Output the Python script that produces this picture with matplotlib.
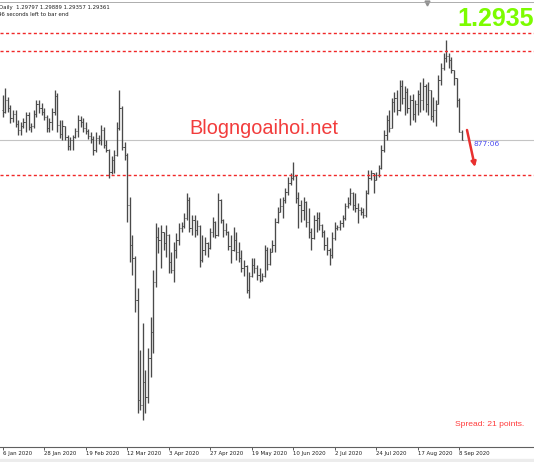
import matplotlib
matplotlib.use('Agg')
import matplotlib.pyplot as plt
import numpy as np

# GBPUSD daily bars (Jan 2020 - Sep 2020)
highs = [
    1.3181, 1.3219, 1.3170, 1.3126, 1.3098, 1.3098, 1.3043, 1.3032, 1.3054, 1.3087,
    1.3087, 1.3027, 1.3098, 1.3153, 1.3153, 1.3137, 1.3109, 1.3071, 1.3054, 1.3109,
    1.3208, 1.3192, 1.3043, 1.3043, 1.3010, 1.2962, 1.2951, 1.2962, 1.2999, 1.3071,
    1.3065, 1.3054, 1.3032, 1.2994, 1.2978, 1.2956, 1.2978, 1.2962, 1.3016, 1.3005,
    1.2934, 1.2885, 1.2846, 1.2879, 1.3032, 1.3208, 1.3120, 1.2923, 1.2860, 1.2622,
    1.2414, 1.2300, 1.2123, 1.1783, 1.1931, 1.1673, 1.1794, 1.1964, 1.2221, 1.2479,
    1.2457, 1.2468, 1.2430, 1.2468, 1.2420, 1.2320, 1.2375, 1.2425, 1.2479, 1.2484,
    1.2534, 1.2644, 1.2622, 1.2523, 1.2523, 1.2495, 1.2470, 1.2414, 1.2403, 1.2375,
    1.2451, 1.2512, 1.2490, 1.2644, 1.2612, 1.2500, 1.2479, 1.2435, 1.2414, 1.2457,
    1.2430, 1.2375, 1.2331, 1.2276, 1.2250, 1.2210, 1.2287, 1.2287, 1.2249, 1.2232,
    1.2205, 1.2359, 1.2348, 1.2342, 1.2386, 1.2506, 1.2567, 1.2616, 1.2622, 1.2671,
    1.2731, 1.2753, 1.2813, 1.2742, 1.2649, 1.2605, 1.2622, 1.2600, 1.2561, 1.2451,
    1.2523, 1.2539, 1.2539, 1.2475, 1.2441, 1.2403, 1.2342, 1.2430, 1.2484, 1.2468,
    1.2495, 1.2523, 1.2589, 1.2622, 1.2671, 1.2649, 1.2644, 1.2589, 1.2567, 1.2561,
    1.2660, 1.2769, 1.2769, 1.2753, 1.2758, 1.2797, 1.2907, 1.2989, 1.3071, 1.3098,
    1.3164, 1.3197, 1.3208, 1.3263, 1.3263, 1.3230, 1.3219, 1.3181, 1.3186, 1.3153,
    1.3208, 1.3252, 1.3273, 1.3240, 1.3252, 1.3208, 1.3170, 1.3153, 1.3290, 1.3356,
    1.3411, 1.3482, 1.3411, 1.3389, 1.3317, 1.3273, 1.3164, 1.29889]

lows = [
    1.3060, 1.3080, 1.3087, 1.3027, 1.3032, 1.3005, 1.2962, 1.2962, 1.2999, 1.2978,
    1.2989, 1.2978, 1.3000, 1.3060, 1.3082, 1.3071, 1.3043, 1.2978, 1.2978, 1.2989,
    1.3071, 1.2978, 1.2945, 1.2934, 1.2934, 1.2879, 1.2879, 1.2879, 1.2945, 1.2951,
    1.3005, 1.2978, 1.2967, 1.2940, 1.2918, 1.2852, 1.2868, 1.2912, 1.2907, 1.2890,
    1.2868, 1.2725, 1.2747, 1.2753, 1.2845, 1.2990, 1.2879, 1.2824, 1.2484, 1.2265,
    1.2194, 1.1991, 1.1438, 1.1454, 1.1399, 1.1438, 1.1493, 1.1635, 1.1767, 1.2129,
    1.2315, 1.2232, 1.2331, 1.2293, 1.2205, 1.2205, 1.2156, 1.2287, 1.2359, 1.2430,
    1.2451, 1.2495, 1.2430, 1.2414, 1.2403, 1.2414, 1.2238, 1.2265, 1.2304, 1.2293,
    1.2335, 1.2403, 1.2397, 1.2405, 1.2479, 1.2403, 1.2414, 1.2331, 1.2260, 1.2325,
    1.2276, 1.2265, 1.2210, 1.2188, 1.2096, 1.2068, 1.2183, 1.2205, 1.2167, 1.2156,
    1.2162, 1.2183, 1.2221, 1.2249, 1.2320, 1.2320, 1.2479, 1.2539, 1.2506, 1.2589,
    1.2633, 1.2688, 1.2715, 1.2589, 1.2451, 1.2484, 1.2495, 1.2457, 1.2397, 1.2331,
    1.2390, 1.2430, 1.2441, 1.2403, 1.2331, 1.2304, 1.2249, 1.2287, 1.2386, 1.2441,
    1.2441, 1.2457, 1.2495, 1.2561, 1.2578, 1.2550, 1.2539, 1.2479, 1.2523, 1.2506,
    1.2512, 1.2640, 1.2715, 1.2644, 1.2715, 1.2731, 1.2775, 1.2868, 1.2934, 1.2978,
    1.2999, 1.3087, 1.3071, 1.3090, 1.3131, 1.3071, 1.3082, 1.3016, 1.3043, 1.3032,
    1.3071, 1.3087, 1.3098, 1.3087, 1.3071, 1.3043, 1.3032, 1.3010, 1.3131, 1.3236,
    1.3317, 1.3361, 1.3328, 1.3301, 1.3236, 1.3115, 1.2975, 1.29357]

closes = [
    1.3087, 1.3153, 1.3109, 1.3054, 1.3076, 1.3021, 1.2989, 1.3010, 1.3032, 1.3071,
    1.3005, 1.3010, 1.3076, 1.3131, 1.3109, 1.3087, 1.3060, 1.2999, 1.3032, 1.3087,
    1.3175, 1.3016, 1.2967, 1.3010, 1.2951, 1.2901, 1.2934, 1.2951, 1.2984, 1.3043,
    1.3032, 1.2999, 1.2984, 1.2956, 1.2940, 1.2879, 1.2945, 1.2934, 1.2989, 1.2907,
    1.2879, 1.2758, 1.2824, 1.2852, 1.2999, 1.3109, 1.2896, 1.2852, 1.2578, 1.2359,
    1.2287, 1.2057, 1.1509, 1.1482, 1.1608, 1.1526, 1.1739, 1.1882, 1.2156, 1.2403,
    1.2386, 1.2430, 1.2370, 1.2414, 1.2265, 1.2221, 1.2331, 1.2386, 1.2451, 1.2462,
    1.2506, 1.2605, 1.2451, 1.2495, 1.2441, 1.2462, 1.2276, 1.2331, 1.2370, 1.2342,
    1.2430, 1.2484, 1.2414, 1.2605, 1.2495, 1.2441, 1.2430, 1.2353, 1.2331, 1.2386,
    1.2320, 1.2287, 1.2232, 1.2243, 1.2112, 1.2188, 1.2249, 1.2232, 1.2194, 1.2167,
    1.2188, 1.2331, 1.2254, 1.2320, 1.2359, 1.2484, 1.2539, 1.2572, 1.2605, 1.2649,
    1.2699, 1.2725, 1.2736, 1.2616, 1.2578, 1.2550, 1.2594, 1.2484, 1.2430, 1.2397,
    1.2495, 1.2506, 1.2468, 1.2430, 1.2359, 1.2331, 1.2304, 1.2397, 1.2451, 1.2457,
    1.2479, 1.2506, 1.2572, 1.2589, 1.2644, 1.2578, 1.2561, 1.2550, 1.2539, 1.2523,
    1.2644, 1.2725, 1.2753, 1.2715, 1.2742, 1.2780, 1.2879, 1.2962, 1.3043, 1.2999,
    1.3142, 1.3164, 1.3098, 1.3230, 1.3164, 1.3197, 1.3109, 1.3153, 1.3076, 1.3131,
    1.3186, 1.3153, 1.3230, 1.3131, 1.3208, 1.3065, 1.3098, 1.3131, 1.3263, 1.3328,
    1.3383, 1.3394, 1.3372, 1.3317, 1.3273, 1.3153, 1.29797, 1.29361]

opens = [
    1.3098, 1.3087, 1.3153, 1.3109, 1.3054, 1.3076, 1.3021, 1.2989, 1.3010, 1.3032,
    1.3071, 1.3005, 1.3010, 1.3076, 1.3131, 1.3109, 1.3087, 1.3060, 1.2999, 1.3032,
    1.3087, 1.3175, 1.3016, 1.2967, 1.3010, 1.2951, 1.2901, 1.2934, 1.2951, 1.2984,
    1.3043, 1.3032, 1.2999, 1.2984, 1.2956, 1.2940, 1.2879, 1.2945, 1.2934, 1.2989,
    1.2907, 1.2879, 1.2758, 1.2824, 1.2852, 1.2999, 1.3109, 1.2896, 1.2852, 1.2578,
    1.2359, 1.2287, 1.2057, 1.1509, 1.1482, 1.1608, 1.1526, 1.1739, 1.1882, 1.2156,
    1.2403, 1.2386, 1.2430, 1.2370, 1.2414, 1.2265, 1.2221, 1.2331, 1.2386, 1.2451,
    1.2462, 1.2506, 1.2605, 1.2451, 1.2495, 1.2441, 1.2462, 1.2276, 1.2331, 1.2370,
    1.2342, 1.2430, 1.2484, 1.2414, 1.2605, 1.2495, 1.2441, 1.2430, 1.2353, 1.2331,
    1.2386, 1.2320, 1.2287, 1.2232, 1.2243, 1.2112, 1.2188, 1.2249, 1.2232, 1.2194,
    1.2167, 1.2188, 1.2331, 1.2254, 1.2320, 1.2359, 1.2484, 1.2539, 1.2572, 1.2605,
    1.2649, 1.2699, 1.2725, 1.2736, 1.2616, 1.2578, 1.2550, 1.2594, 1.2484, 1.2430,
    1.2397, 1.2495, 1.2506, 1.2468, 1.2430, 1.2359, 1.2331, 1.2304, 1.2397, 1.2451,
    1.2457, 1.2479, 1.2506, 1.2572, 1.2589, 1.2644, 1.2578, 1.2561, 1.2550, 1.2539,
    1.2523, 1.2644, 1.2725, 1.2753, 1.2715, 1.2742, 1.2780, 1.2879, 1.2962, 1.3043,
    1.2999, 1.3142, 1.3164, 1.3098, 1.3230, 1.3164, 1.3197, 1.3109, 1.3153, 1.3076,
    1.3131, 1.3186, 1.3153, 1.3230, 1.3131, 1.3208, 1.3065, 1.3098, 1.3131, 1.3263,
    1.3328, 1.3383, 1.3394, 1.3372, 1.3317, 1.3273, 1.3153, 1.29797]

date_labels = ['6 Jan 2020', '28 Jan 2020', '19 Feb 2020', '12 Mar 2020', '3 Apr 2020',
               '27 Apr 2020', '19 May 2020', '10 Jun 2020', '2 Jul 2020', '24 Jul 2020',
               '17 Aug 2020', '8 Sep 2020']
label_step = 16

dashed_levels = [1.3520, 1.3419, 1.2742]
bid = 1.29361

W, H = 534, 462
fig = plt.figure(figsize=(W / 100, H / 100), dpi=100)
fig.patch.set_facecolor('white')
ax = fig.add_axes([0, 15 / H, 1, 445 / H])

# OHLC bars
x = np.arange(len(closes))
bar_color = '#4a4a4a'
ax.vlines(x, lows, highs, color=bar_color, lw=0.95)
ax.hlines(opens, x - 0.45, x, color=bar_color, lw=0.7)
ax.hlines(closes, x, x + 0.45, color=bar_color, lw=0.7)

# user lines (red dashed) and bid line
for lvl in dashed_levels:
    ax.axhline(lvl, color='#f02828', lw=1.0, ls=(0, (2.2, 1.8)), zorder=3)
ax.axhline(bid, color='#c4c4c4', lw=0.8, zorder=0)

ax.set_xlim(-1.041, 204.82)
ax.set_ylim(1.12514, 1.36900)

ax.set_yticks([])
ax.set_xticks(np.arange(len(date_labels)) * label_step)
ax.set_xticklabels(date_labels)
for lab in ax.get_xticklabels():
    lab.set_ha('left')
ax.tick_params(axis='x', direction='out', length=2, width=0.6, color='#404040',
               labelsize=3.9, pad=1.2, labelcolor='#202020')
for side in ['left', 'right']:
    ax.spines[side].set_visible(False)
ax.spines['bottom'].set_color('#606060')
ax.spines['bottom'].set_linewidth(0.8)
ax.spines['top'].set_color('#a0a0a0')
ax.spines['top'].set_linewidth(0.6)

# chart shift marker
ax.plot([427 / W], [0.998], marker='v', ms=3.5, color='#909090',
        transform=ax.transAxes, clip_on=False)

# status strip at the bottom
fig.patches.append(plt.Rectangle((0, 0), 1, 3 / H, transform=fig.transFigure,
                                 color='#ececec', zorder=0))

# header texts
fig.text(-1 / W, 1 - 7 / H, 'Daily  1.29797 1.29889 1.29357 1.29361',
         fontsize=3.9, va='center', ha='left', color='#202020')
fig.text(-2.5 / W, 1 - 15 / H, '46 seconds left to bar end',
         fontsize=3.9, va='center', ha='left', color='#202020')

fig.text(457 / W, 1 - 26.5 / H, '1.29359', fontsize=18, fontweight='bold',
         color='#7cfc00', va='baseline', family='Liberation Sans')

fig.text(189 / W, 1 - 134 / H, 'Blogngoaihoi.net', fontsize=14.3,
         color='#f23c3c', va='baseline', family='Liberation Sans')

fig.text(455 / W, 1 - 426 / H, 'Spread: 21 points.', fontsize=6.1,
         color='#ff3b3b', va='baseline', family='Liberation Sans')

fig.text(473 / W, 1 - 146 / H, '877:06', fontsize=5.4,
         color='#4a4af0', va='baseline')

ax.annotate('', xy=(475, H - 167), xycoords='figure pixels',
            xytext=(467, H - 130), textcoords='figure pixels',
            arrowprops=dict(arrowstyle='-|>', color='#e8302f', lw=1.8,
                            mutation_scale=7, shrinkA=0, shrinkB=0))

fig.savefig('out.png', dpi=100, facecolor='white')
